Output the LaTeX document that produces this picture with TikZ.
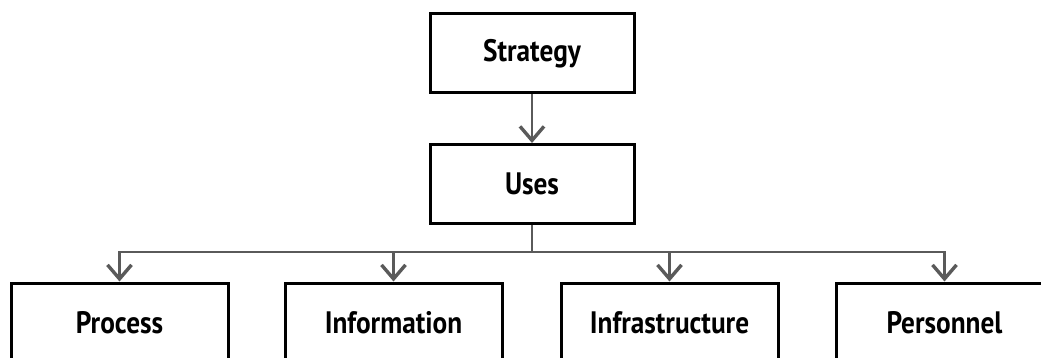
\documentclass[tikz,border=0pt]{standalone}
\usepackage{fontspec}
\setmainfont{PT Sans}[FakeStretch=0.88]
\usetikzlibrary{arrows.meta}
\begin{document}
\begin{tikzpicture}[x=1pt,y=-1pt,
  box/.style={draw=black,line width=3pt,minimum width=204pt,minimum height=79pt,inner sep=0pt,font=\fontsize{31}{33}\selectfont\bfseries},
  lowbox/.style={box,minimum width=217pt},
  conn/.style={draw={rgb,255:red,90;green,90;blue,90},line width=2.8pt},
  arr/.style={conn,-{Straight Barb[length=14pt,width=24pt,line width=3.4pt]}}]
\useasboundingbox (0,0) rectangle (1041,358);
\clip (0,0) rectangle (1041,358);
\node[box] (strategy) at (532,53.5) {Strategy};
\node[box] (uses) at (532,184) {Uses};
\node[lowbox] (process) at (119.5,322.5) {Process};
\node[lowbox] (information) at (393.5,322.5) {Information};
\node[lowbox] (infrastructure) at (669.5,322.5) {Infrastructure};
\node[lowbox] (personnel) at (944.5,322.5) {Personnel};
\coordinate (bus) at (532,252);
\draw[arr] (strategy.south) -- (uses.north);
\draw[conn] (uses.south) -- (bus);
\foreach \n in {process,information,infrastructure,personnel}
  \draw[arr] (bus) -| (\n.north);
\end{tikzpicture}
\end{document}
